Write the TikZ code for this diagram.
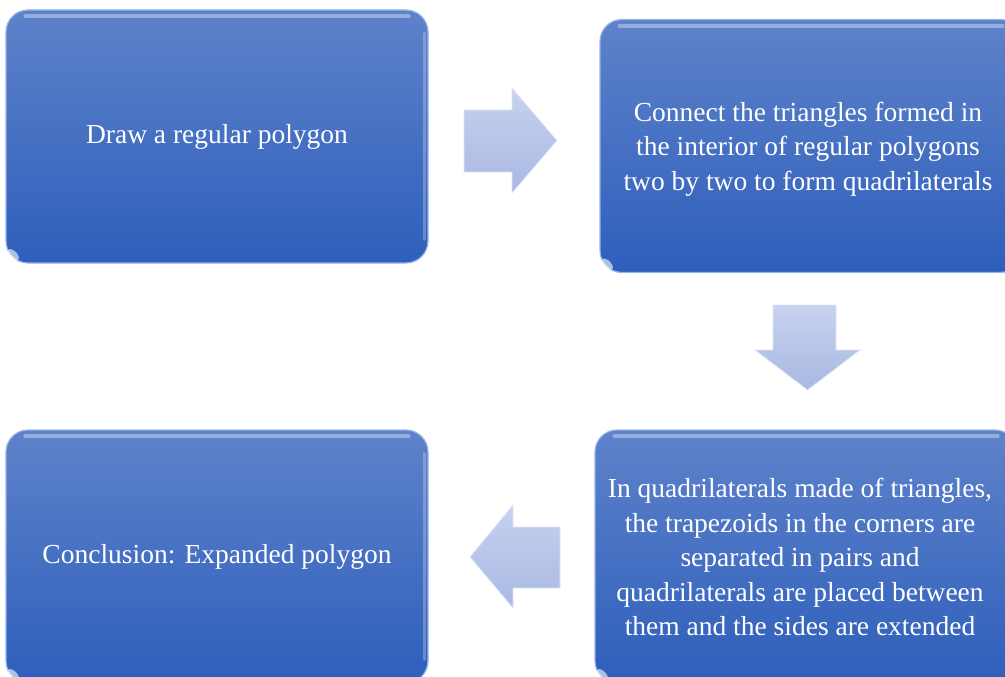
\documentclass[tikz,border=0pt]{standalone}
\usepackage{fontspec}
\setmainfont{Liberation Serif}
\begin{document}
\begin{tikzpicture}[x=1pt,y=-1pt]
\definecolor{boxtop}{RGB}{94,130,202}
\definecolor{boxbot}{RGB}{46,95,187}
\definecolor{boxedge}{RGB}{150,180,232}
\definecolor{arrtop}{RGB}{200,210,240}
\definecolor{arrbot}{RGB}{168,184,226}
\definecolor{arredge}{RGB}{225,230,248}
\tikzset{
  stepbox/.style={rectangle, rounded corners=22pt, top color=boxtop, bottom color=boxbot,
    draw=boxedge, line width=1.2pt, minimum width=422pt, minimum height=253pt,
    text=white, align=center, font=\fontsize{27.5}{34.5}\selectfont, inner sep=0pt},
  steptext/.style={text=white, align=center, font=\fontsize{27.5}{34.5}\selectfont, inner sep=0pt},
  gloss/.style={draw=white, opacity=0.35, line width=4pt, line cap=round},
  blockarrow/.style={top color=arrtop, bottom color=arrbot, draw=arredge, line width=0.8pt, line join=miter}
}
\useasboundingbox (0,0) rectangle (1005,677);
\begin{scope}
\clip (0,0) rectangle (1005,677);
\node[stepbox] (b1) at (217,136.5) {};
\node[stepbox] (b2) at (811,146) {};
\node[stepbox] (b3) at (806,556.5) {};
\node[stepbox] (b4) at (217,556.5) {};
% glossy highlights
\foreach \b in {b1,b2,b3,b4}{
  \draw[gloss] ([xshift=20pt,yshift=-7pt]\b.north west) -- ([xshift=-20pt,yshift=-7pt]\b.north east);
  \draw[gloss, opacity=0.25, line width=2.5pt] ([xshift=-4pt,yshift=-24pt]\b.north east) -- ([xshift=-4pt,yshift=24pt]\b.south east);
  \fill[white, opacity=0.6] ([xshift=8pt,yshift=9pt]\b.south west) ellipse[x radius=7pt, y radius=3.5pt, rotate=-45];
}
\node[steptext] (t1) at (217,137) {Draw a regular polygon};
\node[steptext] (t2) at (808,149)
  {Connect the triangles formed in\\the interior of regular polygons\\two by two to form quadrilaterals};
\node[steptext] (t3) at (800,557)
  {In quadrilaterals made of triangles,\\the trapezoids in the corners are\\separated in pairs and\\quadrilaterals are placed between\\them and the sides are extended};
\node[steptext] (t4) at (217,557)
  {Conclusion: Expanded polygon};
\end{scope}
% block arrows
\draw[blockarrow] (464,110) -- (512,110) -- (512,88) -- (557,140.5) -- (512,193) -- (512,172) -- (464,172) -- cycle;
\draw[blockarrow] (773,305) -- (836,305) -- (836,350) -- (860,350) -- (807.5,390) -- (755,350) -- (773,350) -- cycle;
\draw[blockarrow] (560,527) -- (513,527) -- (513,505) -- (470,557) -- (513,608) -- (513,588) -- (560,588) -- cycle;
\end{tikzpicture}
\end{document}
